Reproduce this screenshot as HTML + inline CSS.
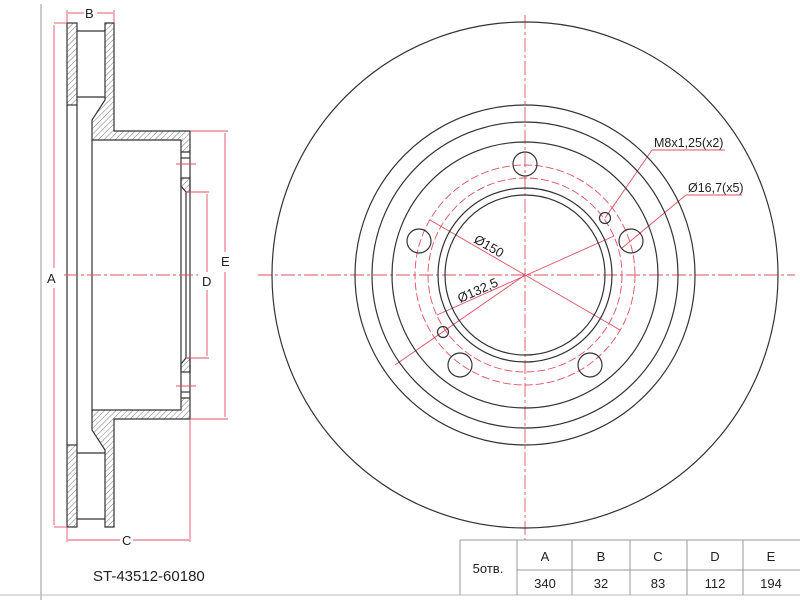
<!DOCTYPE html>
<html><head><meta charset="utf-8"><style>
html,body{margin:0;padding:0;background:#fff}
svg{display:block}
text{font-family:"Liberation Sans",Arial,sans-serif;fill:#222}
</style></head><body>
<svg width="800" height="600" viewBox="0 0 800 600" xmlns="http://www.w3.org/2000/svg">
<defs>
<pattern id="h" patternUnits="userSpaceOnUse" width="4" height="4" patternTransform="rotate(45)">
<line x1="0" y1="0" x2="0" y2="4" stroke="#555" stroke-width="0.8"/>
</pattern>
</defs>
<line x1="41" y1="4" x2="41" y2="600" stroke="#bbb" stroke-width="1.5"/>
<line x1="0" y1="595" x2="800" y2="595" stroke="#bbb" stroke-width="1"/>

<g stroke="#333" stroke-width="1.2" fill="url(#h)">
<rect x="67" y="23" width="10" height="82"/>
<path d="M105 23 H114 V131 H190 V152 H181 V140 H92 V120 L105 100 Z"/>
<path d="M181 178 H190 V192 H186 L181 186 Z"/>
<rect x="67" y="445" width="10" height="82"/>
<path d="M105 527 H114 V419 H190 V398 H181 V410 H92 V430 L105 450 Z"/>
<path d="M181 372 H190 V358 H186 L181 364 Z"/>
</g>
<g stroke="#333" stroke-width="1.2" fill="none">
<line x1="67" y1="105" x2="67" y2="445"/>
<line x1="77" y1="105" x2="77" y2="445"/>
<line x1="77" y1="31" x2="105" y2="31"/>
<line x1="77" y1="97" x2="105" y2="97"/>
<line x1="77" y1="453" x2="105" y2="453"/>
<line x1="77" y1="519" x2="105" y2="519"/>
<line x1="92" y1="140" x2="92" y2="410"/>
<line x1="181" y1="152" x2="181" y2="398"/>
<line x1="190" y1="152" x2="190" y2="398"/>
<line x1="186" y1="192" x2="186" y2="358"/>
<line x1="181" y1="158" x2="190" y2="158"/>
<line x1="181" y1="392" x2="190" y2="392"/>
</g>
<g stroke="#e05060" stroke-width="0.9" fill="none">
<line x1="176" y1="164" x2="196" y2="164"/>
<line x1="176" y1="386" x2="196" y2="386"/>
<line x1="64" y1="275" x2="198" y2="275" stroke-dasharray="14 3 3 3"/>
<line x1="54" y1="23" x2="67" y2="23"/><line x1="54" y1="527" x2="67" y2="527"/>
<line x1="54" y1="25" x2="54" y2="268"/><line x1="54" y1="288" x2="54" y2="525"/>
<line x1="67" y1="10" x2="67" y2="23"/><line x1="114" y1="10" x2="114" y2="23"/>
<line x1="68" y1="13" x2="84" y2="13"/><line x1="97" y1="13" x2="113" y2="13"/>
<line x1="190" y1="131" x2="228" y2="131"/><line x1="190" y1="419" x2="228" y2="419"/>
<line x1="225" y1="133" x2="225" y2="252"/><line x1="225" y1="272" x2="225" y2="417"/>
<line x1="186" y1="192" x2="209" y2="192"/><line x1="186" y1="358" x2="209" y2="358"/>
<line x1="207" y1="194" x2="207" y2="272"/><line x1="207" y1="290" x2="207" y2="356"/>
<line x1="67" y1="527" x2="67" y2="542"/><line x1="190" y1="419" x2="190" y2="542"/>
<line x1="68" y1="540" x2="120" y2="540"/><line x1="133" y1="540" x2="189" y2="540"/>
</g>
<g font-size="13">
<text x="47" y="283">A</text>
<text x="85" y="18">B</text>
<text x="221" y="266">E</text>
<text x="202" y="286">D</text>
<text x="122" y="545">C</text>
</g>
<text x="93" y="581" font-size="15">ST-43512-60180</text>

<g stroke="#e05060" stroke-width="0.9" fill="none">
<line x1="258" y1="275" x2="795" y2="275" stroke-dasharray="14 3 3 3"/>
<line x1="525" y1="15" x2="525" y2="540" stroke-dasharray="14 3 3 3"/>
<circle cx="525" cy="275" r="110" stroke-dasharray="8 3"/>
<circle cx="525" cy="275" r="97" stroke-dasharray="8 3"/>
<line x1="430" y1="220" x2="620" y2="330"/>
<line x1="437" y1="315" x2="614" y2="236"/>
<line x1="395" y1="365" x2="525" y2="275"/>
<line x1="605" y1="218" x2="652" y2="150"/><line x1="652" y1="150" x2="725" y2="150"/>
<line x1="622" y1="248" x2="686" y2="195"/><line x1="686" y1="195" x2="742" y2="195"/>
</g>
<g stroke="#333" stroke-width="1.2" fill="none">
<circle cx="525" cy="275" r="253"/>
<circle cx="525" cy="275" r="170"/>
<circle cx="525" cy="275" r="153"/>
<circle cx="525" cy="275" r="133"/>
<circle cx="525" cy="275" r="87"/>
<circle cx="525" cy="275" r="80"/>
<circle cx="525" cy="164" r="12"/>
<circle cx="419" cy="241" r="12"/>
<circle cx="631" cy="241" r="12"/>
<circle cx="460" cy="365" r="12"/>
<circle cx="590" cy="365" r="12"/>
<circle cx="605" cy="218" r="5.5"/>
<circle cx="443" cy="332" r="5.5"/>
</g>
<text x="0" y="0" font-size="13" transform="translate(473,242) rotate(30)">Ø150</text>
<text x="0" y="0" font-size="13" transform="translate(460,303) rotate(-24)">Ø132,5</text>
<text x="654" y="147" font-size="12.5">M8x1,25(x2)</text>
<text x="688" y="192" font-size="12.5">Ø16,7(x5)</text>

<g stroke="#999" stroke-width="1" fill="none">
<line x1="460" y1="540" x2="800" y2="540"/>
<line x1="517" y1="570" x2="800" y2="570"/>
<line x1="460" y1="540" x2="460" y2="595"/>
<line x1="517" y1="540" x2="517" y2="595"/>
<line x1="572" y1="540" x2="572" y2="595"/>
<line x1="630" y1="540" x2="630" y2="595"/>
<line x1="687" y1="540" x2="687" y2="595"/>
<line x1="743" y1="540" x2="743" y2="595"/>
</g>
<g font-size="13" text-anchor="middle">
<text x="488" y="573">5отв.</text>
<text x="545" y="561">A</text><text x="601" y="561">B</text><text x="658" y="561">C</text><text x="715" y="561">D</text><text x="771" y="561">E</text>
<text x="545" y="588">340</text><text x="601" y="588">32</text><text x="658" y="588">83</text><text x="715" y="588">112</text><text x="771" y="588">194</text>
</g>
</svg>
</body></html>
